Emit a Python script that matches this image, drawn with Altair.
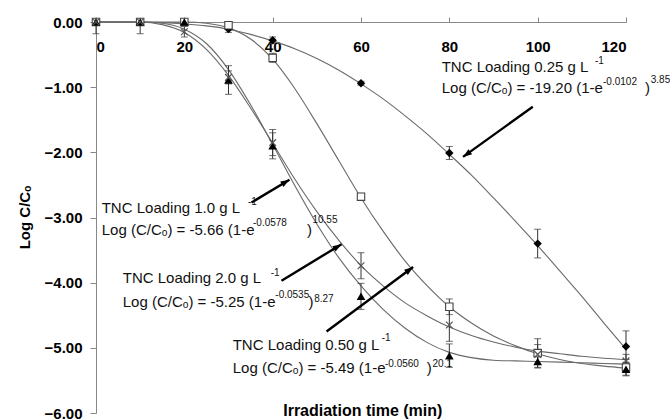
import math
import altair as alt
import pandas as pd

# ---------------- data ----------------
times = [0, 10, 20, 30, 40, 60, 80, 100, 120]
obs_025 = [0.00, 0.00, 0.00, -0.11, -0.28, -0.94, -2.01, -3.40, -4.98]
err_025 = [0.02, 0.02, 0.02, 0.05, 0.05, 0.03, 0.10, 0.22, 0.24]
obs_050 = [0.00, 0.00, 0.00, -0.05, -0.55, -2.68, -4.37, -5.08, -5.30]
err_050 = [0.02, 0.02, 0.05, 0.05, 0.07, 0.05, 0.12, 0.22, 0.12]
obs_100 = [0.00, 0.00, 0.00, -0.89, -1.90, -4.21, -5.12, -5.21, -5.33]
err_100 = [0.18, 0.18, 0.02, 0.22, 0.20, 0.20, 0.18, 0.10, 0.10]
obs_200 = [0.00, 0.00, -0.15, -0.85, -1.85, -3.74, -4.65, -5.10, -5.20]
err_200 = [0.02, 0.02, 0.08, 0.10, 0.20, 0.20, 0.25, 0.15, 0.10]

curve_t = [0, 5, 10, 15, 20, 25, 30, 35, 40, 45, 50, 55, 60,
           65, 70, 75, 80, 85, 90, 95, 100, 105, 110, 115, 120]
curve_025 = [0.00, 0.00, 0.00, -0.01, -0.03, -0.06, -0.11, -0.19, -0.29, -0.41, -0.56, -0.74, -0.95,
             -1.18, -1.44, -1.72, -2.03, -2.35, -2.70, -3.06, -3.43, -3.82, -4.21, -4.62, -5.02]
curve_050 = [0.00, 0.00, 0.00, 0.00, 0.00, -0.02, -0.09, -0.26, -0.57, -1.02, -1.56, -2.13, -2.70,
             -3.21, -3.67, -4.05, -4.37, -4.62, -4.82, -4.97, -5.09, -5.18, -5.24, -5.28, -5.31]
curve_100 = [0.00, 0.00, 0.00, -0.02, -0.11, -0.33, -0.73, -1.27, -1.88, -2.51, -3.10, -3.62, -4.05,
             -4.41, -4.70, -4.92, -5.07, -5.15, -5.19, -5.20, -5.21, -5.22, -5.23, -5.24, -5.25]
curve_200 = [0.00, 0.00, 0.00, -0.04, -0.16, -0.42, -0.82, -1.32, -1.86, -2.41, -2.91, -3.35, -3.74,
             -4.05, -4.31, -4.51, -4.68, -4.81, -4.91, -4.99, -5.05, -5.09, -5.13, -5.16, -5.18]

main_text = ["TNC Loading 0.25 g L", "Log (C/Cₒ) = -19.20 (1-e", ")",
             "TNC Loading 1.0 g L", "Log (C/Cₒ) = -5.66 (1-e", ")",
             "TNC Loading 2.0 g L", "Log (C/Cₒ) = -5.25 (1-e", ")",
             "TNC Loading 0.50 g L", "Log (C/Cₒ) = -5.49 (1-e", ")"]
main_x = [78.27, 78.27, 124.3, 1.29, 1.29, 47.8, 6.05, 6.05, 48.1, 30.95, 30.95, 74.9]
main_y = [-0.763, -1.089, -1.089, -2.935, -3.268, -3.268, -4.010, -4.380, -4.380, -5.033, -5.390, -5.390]
sup_text = ["-1", "-0.0102", "3.85", "-1", "-0.0578", "10.55",
            "-1", "-0.0535", "8.27", "-1", "-0.0560", "20.1"]
sup_x = [112.98, 114.8, 125.6, 34.41, 35.55, 49.0, 39.55, 40.6, 49.4, 64.69, 65.43, 76.2]
sup_y = [-0.644, -0.967, -0.936, -2.808, -3.130, -3.084, -3.897, -4.235, -4.296, -4.895, -5.294, -5.294]

arrow_x1 = [98.9, 35.2, 42.0, 52.2]
arrow_y1 = [-1.30, -2.77, -3.97, -4.75]
arrow_x2 = [83.1, 43.8, 55.6, 71.8]
arrow_y2 = [-2.07, -2.42, -3.41, -3.76]

x_ticks = [0, 20, 40, 60, 80, 100, 120]
y_ticks = [-6, -5, -4, -3, -2, -1, 0]
x_title = "Irradiation time (min)"
y_title = "Log C/Cₒ"

# ---------------- layout ----------------
W, H = 530, 391
FONT = "Liberation Sans"
LINE_COL = "#6a6a6a"

xs = alt.Scale(domain=[0, 120], nice=False, zero=False)
ys = alt.Scale(domain=[-6, 0], nice=False, zero=False)

x_axis = alt.Axis(orient="top", values=x_ticks, format="d", labelFont=FONT, labelFontSize=15,
                  labelFontWeight="bold", labelColor="black", labelBaseline="top", labelPadding=-22,
                  tickSize=5, tickColor="#888888", domainColor="#888888", grid=False, title=None)
y_axis = alt.Axis(orient="left", values=y_ticks, format=".2f", labelFont=FONT, labelFontSize=15,
                  labelFontWeight="bold", labelColor="black", labelPadding=8, tickSize=6,
                  tickColor="#888888", domainColor="#888888", grid=False,
                  title=y_title, titleFont=FONT, titleFontSize=15, titleFontWeight="bold",
                  titleColor="black", titleAngle=270, titleX=-72, titleY=195,
                  titleAlign="center", titleBaseline="middle")


def X(field):
    return alt.X(field, scale=xs, axis=x_axis)


def Y(field):
    return alt.Y(field, scale=ys, axis=y_axis)


series = [
    ("0.25", obs_025, err_025, curve_025),
    ("0.50", obs_050, err_050, curve_050),
    ("1.0", obs_100, err_100, curve_100),
    ("2.0", obs_200, err_200, curve_200),
]

layers = []
for name, obs, err, cur in series:
    cdf = pd.DataFrame({"t": curve_t, "v": cur})
    layers.append(alt.Chart(cdf).mark_line(color=LINE_COL, strokeWidth=1.1, interpolate="monotone")
                  .encode(x=X("t:Q"), y=Y("v:Q")))

# error bars
for name, obs, err, cur in series:
    edf = pd.DataFrame({"t": times, "v": obs, "e": err})
    edf["lo"] = edf["v"] - edf["e"]
    edf["hi"] = (edf["v"] + edf["e"]).clip(upper=0)
    layers.append(alt.Chart(edf).mark_rule(color="#333333", strokeWidth=1).encode(
        x=X("t:Q"), y=Y("lo:Q"), y2="hi:Q"))
    caps = pd.concat([edf[["t", "lo"]].rename(columns={"lo": "c"}),
                      edf[["t", "hi"]].rename(columns={"hi": "c"})])
    layers.append(alt.Chart(caps).mark_tick(orient="horizontal", size=7, thickness=1, color="#333333")
                  .encode(x=X("t:Q"), y=Y("c:Q")))

marker_styles = {
    "0.25": dict(shape="diamond", filled=True, color="black", size=70, opacity=1),
    "0.50": dict(shape="square", filled=True, fill="white", stroke="#444444", strokeWidth=1.1, size=55, opacity=1),
    "1.0": dict(shape="triangle-up", filled=True, color="black", size=75, opacity=1),
    "2.0": dict(shape="M-1,-1L1,1M-1,1L1,-1", filled=False, stroke="#555555", strokeWidth=1.2, size=45, opacity=1),
}
for name, obs, err, cur in series:
    pdf = pd.DataFrame({"t": times, "v": obs})
    layers.append(alt.Chart(pdf).mark_point(**marker_styles[name]).encode(x=X("t:Q"), y=Y("v:Q")))

# arrows
adf = pd.DataFrame({"x1": arrow_x1, "y1": arrow_y1, "x2": arrow_x2, "y2": arrow_y2})
px_x, px_y = W / 120.0, H / 6.0
angles = []
for a, b, c, d in zip(arrow_x1, arrow_y1, arrow_x2, arrow_y2):
    dx = (c - a) * px_x
    dy = -(d - b) * px_y
    angles.append(math.degrees(math.atan2(dx, -dy)) % 360)
adf["ang"] = angles
layers.append(alt.Chart(adf).mark_rule(color="black", strokeWidth=2.4).encode(
    x=X("x1:Q"), y=Y("y1:Q"), x2="x2:Q", y2="y2:Q"))
layers.append(alt.Chart(adf).mark_point(shape="M0,0L0.6,1.7L-0.6,1.7Z", filled=True, color="black",
                                        size=110, opacity=1).encode(
    x=X("x2:Q"), y=Y("y2:Q"), angle=alt.Angle("ang:Q", scale=None)))

# annotation texts
mdf = pd.DataFrame({"x": main_x, "y": main_y, "txt": main_text})
layers.append(alt.Chart(mdf).mark_text(align="left", baseline="alphabetic", font=FONT, fontSize=15,
                                       color="#111111").encode(x=X("x:Q"), y=Y("y:Q"), text="txt:N"))
sdf = pd.DataFrame({"x": sup_x, "y": sup_y, "txt": sup_text})
layers.append(alt.Chart(sdf).mark_text(align="left", baseline="alphabetic", font=FONT, fontSize=10,
                                       color="#111111").encode(x=X("x:Q"), y=Y("y:Q"), text="txt:N"))

tdf = pd.DataFrame({"x": [60.4], "y": [-6.04], "txt": [x_title]})
layers.append(alt.Chart(tdf).mark_text(align="center", baseline="alphabetic", font=FONT, fontSize=16,
                                       fontWeight="bold", color="black").encode(
    x=X("x:Q"), y=Y("y:Q"), text="txt:N"))

chart = alt.layer(*layers).properties(
    width=W, height=H,
    autosize=alt.AutoSizeParams(type="none"),
    padding={"left": 96, "top": 22, "right": 44, "bottom": 7},
    background="white",
).configure_view(stroke=None)

chart.save("out.html", embed_options={"renderer": "svg", "actions": False})
